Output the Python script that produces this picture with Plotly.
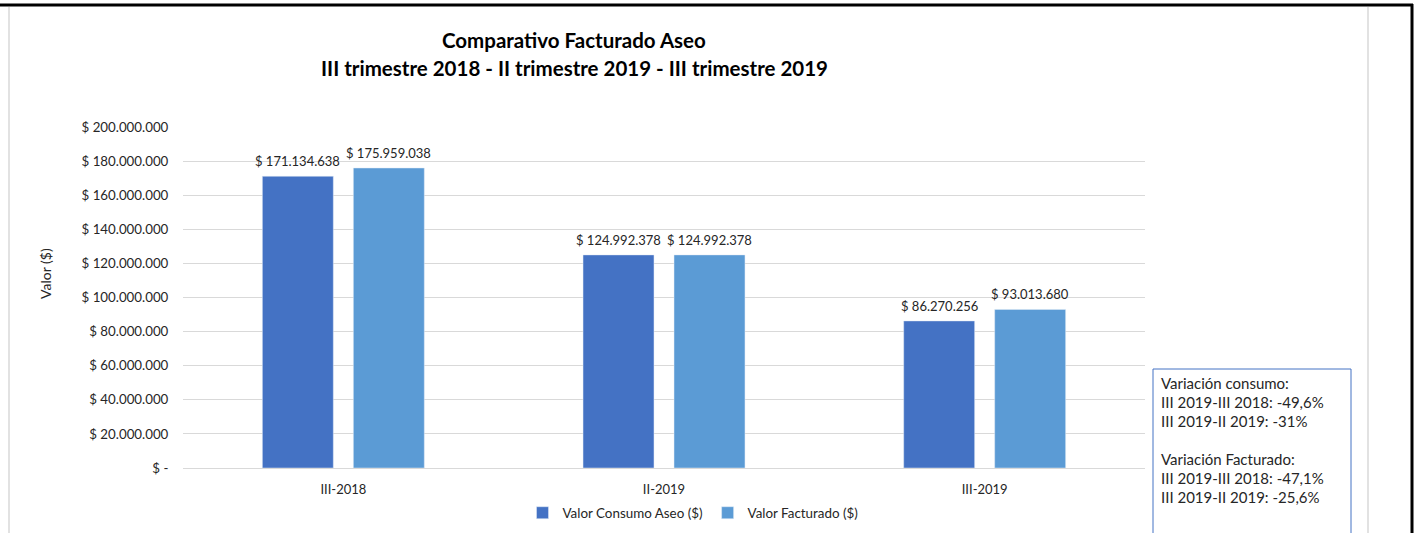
import plotly.graph_objects as go

# Chart data
categories = ["III-2018", "II-2019", "III-2019"]
consumo = [171134638, 124992378, 86270256]
facturado = [175959038, 124992378, 93013680]
series_names = ["Valor Consumo Aseo ($)", "Valor Facturado ($)"]
y_tick_values = [0, 20000000, 40000000, 60000000, 80000000, 100000000,
                 120000000, 140000000, 160000000, 180000000, 200000000]
y_tick_labels = ["$ -", "$ 20.000.000", "$ 40.000.000", "$ 60.000.000", "$ 80.000.000",
                 "$ 100.000.000", "$ 120.000.000", "$ 140.000.000", "$ 160.000.000",
                 "$ 180.000.000", "$ 200.000.000"]
title_lines = ["Comparativo Facturado Aseo",
               "III trimestre 2018 - II trimestre 2019 - III trimestre 2019"]
note_lines = ["Variación consumo:", "III 2019-III 2018: -49,6%", "III 2019-II 2019: -31%",
              "", "Variación Facturado:", "III 2019-III 2018: -47,1%", "III 2019-II 2019: -25,6%"]

FONT = "Lato, Calibri, Carlito, sans-serif"
TXT = "#262626"
W, H = 1417, 533
ML, MR, MT, MB = 183, 272, 127, 65
PW, PH = W - ML - MR, H - MT - MB
BAR_OFFSET = 45.5  # px from category centre to each bar centre


def px(x):
    return (x - ML) / PW


def py(y):
    return (H - MB - y) / PH


def money(v):
    return "$ " + f"{v:,}".replace(",", ".")


fig = go.Figure()
fig.add_trace(go.Bar(x=categories, y=consumo, name=series_names[0], marker_color="#4472C4"))
fig.add_trace(go.Bar(x=categories, y=facturado, name=series_names[1], marker_color="#5B9BD5"))

fig.update_layout(
    width=W, height=H,
    margin=dict(l=ML, r=MR, t=MT, b=MB, pad=0, autoexpand=False),
    paper_bgcolor="white", plot_bgcolor="white",
    barmode="group", bargap=0.4325, bargroupgap=0.22,
    font=dict(family=FONT, size=13, color=TXT),
    showlegend=True,
    legend=dict(orientation="h", xref="container", yref="container",
                x=693 / W, y=1 - 513 / H, xanchor="center", yanchor="middle",
                font=dict(size=13.4, color=TXT, family=FONT),
                itemwidth=30, bgcolor="rgba(0,0,0,0)"),
)

fig.update_xaxes(
    showgrid=False, showline=False, zeroline=False,
    ticks="outside", ticklen=9, tickcolor="rgba(0,0,0,0)",
    tickfont=dict(size=13, color=TXT, family=FONT),
)
fig.update_yaxes(
    range=[0, 200000000], tickvals=y_tick_values, ticktext=y_tick_labels,
    showgrid=True, gridcolor="#D9D9D9", gridwidth=1,
    zeroline=True, zerolinecolor="#D9D9D9", zerolinewidth=1,
    showline=False, ticks="outside", ticklen=11, tickcolor="rgba(0,0,0,0)",
    tickfont=dict(size=13.3, color=TXT, family=FONT),
)

annotations = []
# Value labels above each bar
for values, shift in ((consumo, -BAR_OFFSET), (facturado, BAR_OFFSET)):
    for cat, v in zip(categories, values):
        annotations.append(dict(
            text=money(v), x=cat, y=v, xref="x", yref="y", xshift=shift, yshift=5,
            xanchor="center", yanchor="bottom", showarrow=False,
            font=dict(size=13, color=TXT, family=FONT),
        ))
# Title lines
for i, line in enumerate(title_lines):
    annotations.append(dict(
        text=f"<b>{line}</b>", x=px(574), y=py(40 + 28 * i), xref="paper", yref="paper",
        xanchor="center", yanchor="middle", showarrow=False,
        font=dict(size=20.5, color="#000000", family=FONT),
    ))
# Y axis title
annotations.append(dict(
    text="Valor ($)", x=px(45), y=py(274), xref="paper", yref="paper",
    xanchor="center", yanchor="middle", textangle=-90, showarrow=False,
    font=dict(size=14, color=TXT, family=FONT),
))
# Note box text
for i, line in enumerate(note_lines):
    if not line:
        continue
    annotations.append(dict(
        text=line, x=px(1159), y=py(383 + 19 * i), xref="paper", yref="paper",
        xanchor="left", yanchor="middle", showarrow=False, align="left",
        font=dict(size=15, color=TXT, family=FONT),
    ))
fig.update_layout(annotations=annotations)

shapes = [
    # note box
    dict(type="rect", xref="paper", yref="paper", x0=px(1153), x1=px(1351),
         y0=py(369), y1=py(560), line=dict(color="#4472C4", width=1),
         fillcolor="rgba(0,0,0,0)", layer="above"),
    # thin grey frame lines
    dict(type="line", xref="paper", yref="paper", x0=px(9), x1=px(9),
         y0=py(7), y1=py(540), line=dict(color="#D9D9D9", width=1.5)),
    dict(type="line", xref="paper", yref="paper", x0=px(1368), x1=px(1368),
         y0=py(7), y1=py(540), line=dict(color="#D9D9D9", width=1.5)),
    # black outer border (top and right)
    dict(type="line", xref="paper", yref="paper", x0=px(-2), x1=px(1413),
         y0=py(5), y1=py(5), line=dict(color="#000000", width=3)),
    dict(type="line", xref="paper", yref="paper", x0=px(1412), x1=px(1412),
         y0=py(4), y1=py(540), line=dict(color="#000000", width=3)),
]
fig.update_layout(shapes=shapes)

fig.write_html("out.html")
